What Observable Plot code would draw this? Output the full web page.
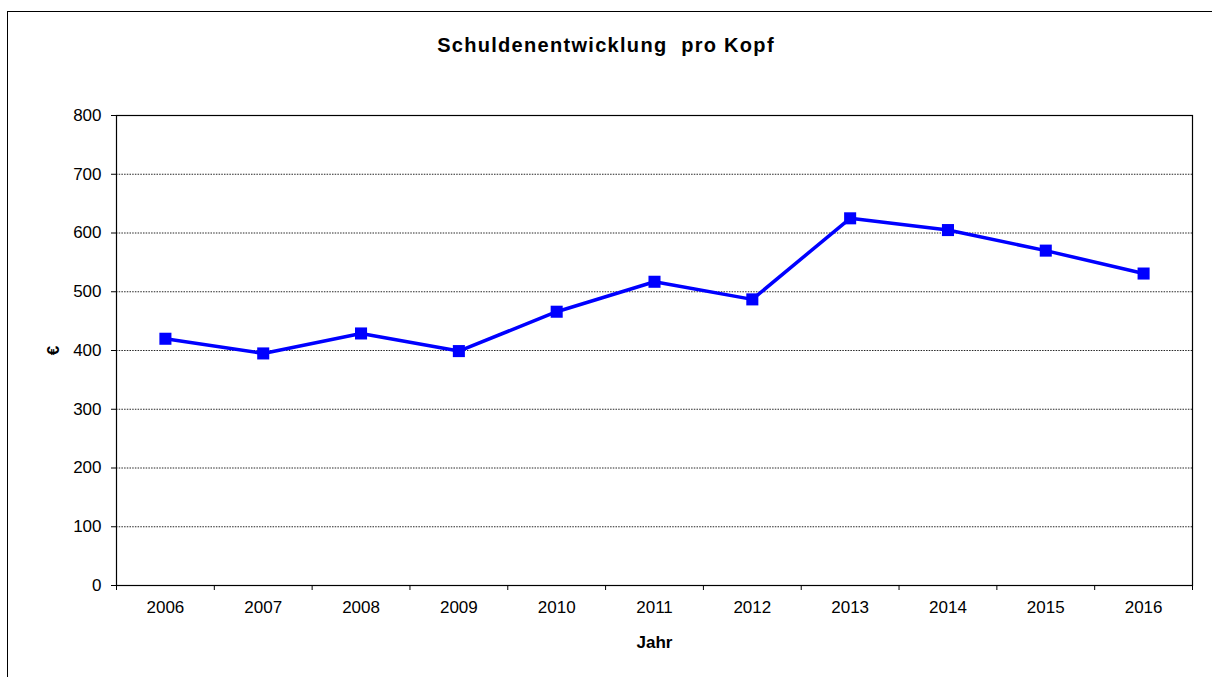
<!DOCTYPE html>
<html>
<head>
<meta charset="utf-8">
<script src="https://cdn.jsdelivr.net/npm/d3@7"></script>
<script src="https://cdn.jsdelivr.net/npm/@observablehq/plot@0.6"></script>
<style>
  html, body { margin: 0; padding: 0; background: #fff; }
  #wrap { position: relative; width: 1212px; height: 677px; overflow: hidden; font-family: "Liberation Sans", Arial, sans-serif; }
  #border { position: absolute; left: 7px; top: 11px; width: 1300px; height: 800px; border: 1.5px solid #000; box-sizing: border-box; }
  #title { position: absolute; left: 0; width: 1212px; top: 34px; text-align: center; font-weight: bold; font-size: 20px; letter-spacing: 1.3px; white-space: pre; color: #000; }
  #chart { position: absolute; left: 0; top: 0; }
</style>
</head>
<body>
<div id="wrap">
  <div id="border"></div>
  <div id="chart"></div>
  <div id="title">Schuldenentwicklung  pro Kopf</div>
</div>
<script>
const years = [2006, 2007, 2008, 2009, 2010, 2011, 2012, 2013, 2014, 2015, 2016];
const debtPerCapita = [420, 395, 429, 399, 466, 517, 487, 625, 605, 570, 531];
const yTicks = [0, 100, 200, 300, 400, 500, 600, 700, 800];
const gridTicks = [100, 200, 300, 400, 500, 600, 700];
const boundaryTicks = years.map(y => y - 0.5).concat([years[years.length - 1] + 0.5]);

const data = years.map((y, i) => ({year: y, value: debtPerCapita[i]}));

const chart = Plot.plot({
  width: 1212,
  height: 677,
  marginLeft: 116,
  marginRight: 20,
  marginTop: 115,
  marginBottom: 92,
  style: {fontFamily: "'Liberation Sans', Arial, sans-serif", fontSize: "17px", color: "#000", background: "transparent", overflow: "visible"},
  x: {domain: [years[0] - 0.5, years[years.length - 1] + 0.5]},
  y: {domain: [0, 800]},
  marks: [
    Plot.gridY(gridTicks, {stroke: "#000", strokeOpacity: 0.85, strokeDasharray: "1.5,1.2"}),
    Plot.axisY(yTicks, {tickSize: 5, tickPadding: 10, label: "€", labelAnchor: "center", labelArrow: "none", labelOffset: 70, fontSize: 17, fontWeight: "normal", letterSpacing: 1}),
    Plot.axisX(years, {tickSize: 0, tickPadding: 15, tickFormat: d => String(d), label: null, letterSpacing: 1}),
    Plot.axisX(boundaryTicks, {tickSize: 5, tickFormat: () => "", label: "Jahr", labelAnchor: "center", labelArrow: "none", labelOffset: 62}),
    Plot.frame({stroke: "#000", strokeWidth: 1.2}),
    Plot.line(data, {x: "year", y: "value", stroke: "#0000FF", strokeWidth: 3.5}),
    Plot.dot(data, {x: "year", y: "value", symbol: "square", r: 6.8, fill: "#0000FF", stroke: "none"})
  ]
});
document.getElementById("chart").appendChild(chart);
// bold axis labels
chart.querySelectorAll("[aria-label='x-axis label'] text, [aria-label='y-axis label'] text").forEach(t => { t.setAttribute("font-weight", "bold"); });
</script>
</body>
</html>
